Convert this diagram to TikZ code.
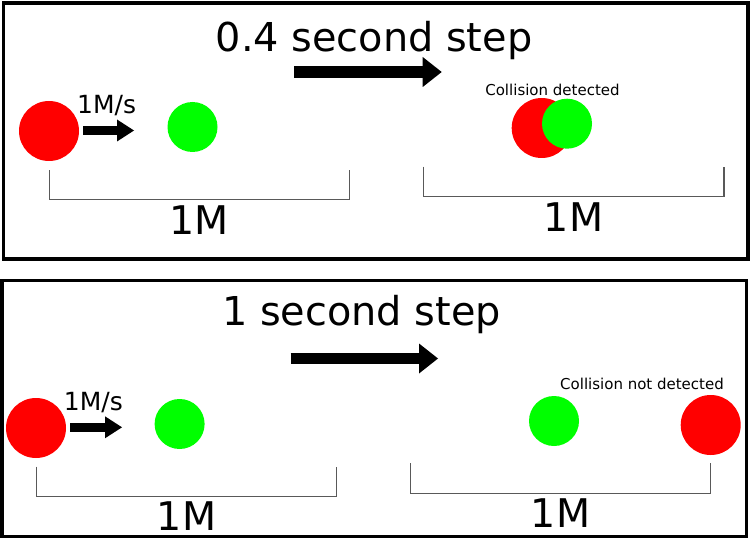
\documentclass[tikz,border=0pt]{standalone}
\usepackage{fontspec}
\setmainfont{DejaVu Sans}
\usetikzlibrary{arrows.meta}
\tikzset{%
  panel/.style      = {draw, line width=3.2pt},%
  redball/.style    = {circle, fill=red, inner sep=0pt, minimum size=60pt},%
  greenball/.style  = {circle, fill=green, inner sep=0pt, minimum size=50pt},%
  ruler/.style      = {draw=black!65, line width=1.4pt},%
  bigarrow/.style   = {line width=11.6pt,%
                       -{Triangle[length=19pt,width=30pt,line width=0pt]}},%
  smallarrow/.style = {line width=9.6pt,%
                       -{Triangle[length=17pt,width=22pt,line width=0pt]}},%
  steptitle/.style  = {anchor=base, inner sep=0pt, font=\fontsize{39.8}{40}\selectfont},%
  length/.style     = {anchor=base, inner sep=0pt, font=\fontsize{39.5}{40}\selectfont},%
  speed/.style      = {anchor=base, inner sep=0pt, font=\fontsize{25}{25}\selectfont},%
  note/.style       = {anchor=base, inner sep=0pt, font=\fontsize{15}{15}\selectfont}%
}
\begin{document}
\begin{tikzpicture}[x=1pt,y=-1pt]
	\useasboundingbox (0,0) rectangle (751,540);
	% upper panel: 0.4 s step
	\draw[panel] (3.3,3) rectangle (748,259);
	\node[steptitle] (titleA) at (374,51.7) {0.4 second step};
	\coordinate (stepA1) at (294,72);
	\coordinate (stepA2) at (441.7,72);
	\draw[bigarrow] (stepA1) -- (stepA2);
	\node[redball] (redA) at (49,131) {};
	\node[greenball] (greenA) at (192.5,127) {};
	\coordinate (moveA1) at (83,130.5);
	\coordinate (moveA2) at (134,130.5);
	\draw[smallarrow] (moveA1) -- (moveA2);
	\node[speed] (speedA) at (106.7,114) {1M/s};
	\draw[ruler] (49.3,170) -- (49.3,199.5) -- (349.3,199.5) -- (349.3,170);
	\node[length] (lenA) at (199,234) {1M};
	\node[redball] (redB) at (541.7,128) {};
	\node[greenball] (greenB) at (567,123.7) {};
	\node[note] (noteB) at (552.5,95.7) {Collision detected};
	\draw[ruler] (423.3,166.7) -- (423.3,196.7) -- (724,196.7) -- (724,166.7);
	\node[length] (lenB) at (573.5,231) {1M};
	% lower panel: 1 s step
	\draw[panel] (2,280.7) rectangle (746.5,536.5);
	\node[steptitle] (titleC) at (361.5,325) {1 second step};
	\coordinate (stepC1) at (290.7,358.5);
	\coordinate (stepC2) at (438,358.5);
	\draw[bigarrow] (stepC1) -- (stepC2);
	\node[redball] (redC) at (36,428) {};
	\node[greenball] (greenC) at (179.6,424) {};
	\coordinate (moveC1) at (70.4,427.3);
	\coordinate (moveC2) at (122,427.3);
	\draw[smallarrow] (moveC1) -- (moveC2);
	\node[speed] (speedC) at (93.4,410.5) {1M/s};
	\draw[ruler] (36.4,466.7) -- (36.4,496.7) -- (336.7,496.7) -- (336.7,466.7);
	\node[length] (lenC) at (186.5,530) {1M};
	\node[greenball] (greenD) at (554,421) {};
	\node[redball] (redD) at (710.7,425) {};
	\node[note] (noteD) at (642,389) {Collision not detected};
	\draw[ruler] (410.4,463.3) -- (410.4,493.3) -- (710.7,493.3) -- (710.7,463.3);
	\node[length] (lenD) at (560.5,527.3) {1M};
\end{tikzpicture}
\end{document}
